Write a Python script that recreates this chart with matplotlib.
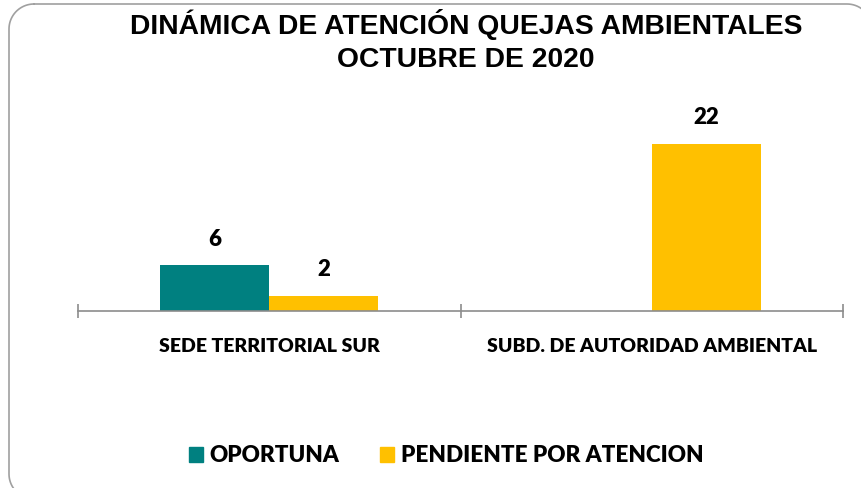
import matplotlib
matplotlib.use('Agg')
import matplotlib.pyplot as plt
from matplotlib.lines import Line2D
from matplotlib.patches import Patch
from matplotlib.transforms import IdentityTransform
import numpy as np

CATEGORIES = ['SEDE TERRITORIAL SUR', 'SUBD. DE AUTORIDAD AMBIENTAL']
OPORTUNA = [6, 0]
PENDIENTE = [2, 22]
SERIES_NAMES = ['OPORTUNA', 'PENDIENTE POR ATENCION']
TITLE = 'DINÁMICA DE ATENCIÓN QUEJAS AMBIENTALES\nOCTUBRE DE 2020'

TEAL = '#008080'
YELLOW = '#FFC000'
AXIS_GRAY = '#8C8C8C'
LABEL_FONT = {'family': 'Lato', 'weight': 800}

W, H = 861, 488
fig = plt.figure(figsize=(W / 100, H / 100), dpi=100)


def rounded_frame(x0, x1, ytop, ybot, r, n=20):
    # outline of a rounded rectangle in pixel (display) coords
    xs, ys = [], []
    corners = [((x0 + r, ytop - r), 90, 180), ((x0 + r, ybot + r), 180, 270),
               ((x1 - r, ybot + r), 270, 360), ((x1 - r, ytop - r), 0, 90)]
    for (cx, cy), a0, a1 in corners:
        t = np.radians(np.linspace(a0, a1, n))
        xs.extend(cx + r * np.cos(t))
        ys.extend(cy + r * np.sin(t))
    xs.append(xs[0])
    ys.append(ys[0])
    return xs, ys


# chart border, running off the right and bottom edges like the original
fx, fy = rounded_frame(9, 872, H - 4, -11, 25)
fig.lines.append(Line2D(fx, fy, transform=IdentityTransform(),
                        color='#A0A0A0', linewidth=1.2))

ax = fig.add_axes([78 / W, (H - 311) / H, (843 - 78) / W, 190 / H])

x = np.arange(len(CATEGORIES))
bw = 0.285
b1 = ax.bar(x - bw / 2, OPORTUNA, bw, color=TEAL)
b2 = ax.bar(x + bw / 2, PENDIENTE, bw, color=YELLOW)

for bars, vals in ((b1, OPORTUNA), (b2, PENDIENTE)):
    for rect, v in zip(bars, vals):
        if v == 0:
            continue
        ax.annotate(str(v), (rect.get_x() + rect.get_width() / 2, v),
                    xytext=(0, 14), textcoords='offset points',
                    ha='center', va='baseline', fontsize=16,
                    color='black', **LABEL_FONT)

ax.set_xlim(-0.5, len(CATEGORIES) - 0.5)
ax.set_ylim(0, 25)
ax.set_yticks([])
for s in ('top', 'right', 'left'):
    ax.spines[s].set_visible(False)
ax.spines['bottom'].set_color(AXIS_GRAY)
ax.spines['bottom'].set_linewidth(1.2)

ax.set_xticks(x)
ax.set_xticklabels(CATEGORIES, fontsize=14, **LABEL_FONT)
ax.tick_params(axis='x', which='major', length=0, pad=19.5)
ax.set_xticks(np.arange(len(CATEGORIES) + 1) - 0.5, minor=True)
ax.tick_params(axis='x', which='minor', length=10, direction='inout',
               color=AXIS_GRAY, width=1.2)

fig.text(466 / W, 1 - 9 / H, TITLE, ha='center', va='top',
         fontsize=20.3, fontweight='bold', family='Liberation Sans',
         linespacing=1.34)

handles = [Patch(color=TEAL, label=SERIES_NAMES[0]),
           Patch(color=YELLOW, label=SERIES_NAMES[1])]
fig.legend(handles=handles, loc='center', bbox_to_anchor=(446 / W, 1 - 456 / H),
           ncol=2, frameon=False, handlelength=0.65, handleheight=0.65,
           handletextpad=0.27, columnspacing=1.8,
           prop={'family': 'Lato', 'weight': 800, 'size': 16.2})

fig.savefig('out.png', dpi=100)
